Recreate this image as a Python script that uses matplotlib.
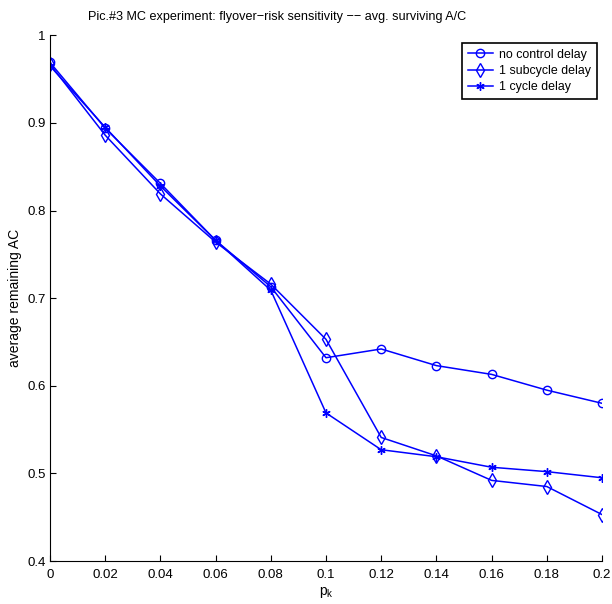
import matplotlib
matplotlib.use("Agg")
import matplotlib.pyplot as plt

plt.rcParams['font.family'] = ['Liberation Sans', 'DejaVu Sans']

p_k = [0.0, 0.02, 0.04, 0.06, 0.08, 0.10, 0.12, 0.14, 0.16, 0.18, 0.20]
no_control_delay = [0.969, 0.894, 0.831, 0.766, 0.713, 0.632, 0.642, 0.623, 0.613, 0.595, 0.580]
one_subcycle_delay = [0.967, 0.886, 0.819, 0.764, 0.716, 0.653, 0.541, 0.520, 0.492, 0.485, 0.453]
one_cycle_delay = [0.965, 0.895, 0.828, 0.766, 0.709, 0.569, 0.527, 0.519, 0.507, 0.502, 0.495]

x_ticks = [0, 0.02, 0.04, 0.06, 0.08, 0.1, 0.12, 0.14, 0.16, 0.18, 0.2]
x_tick_labels = ['0', '0.02', '0.04', '0.06', '0.08', '0.1', '0.12', '0.14', '0.16', '0.18', '0.2']
y_ticks = [0.4, 0.5, 0.6, 0.7, 0.8, 0.9, 1.0]
y_tick_labels = ['0.4', '0.5', '0.6', '0.7', '0.8', '0.9', '1']

W, H = 612, 604
fig = plt.figure(figsize=(W / 100, H / 100), dpi=100)
ax = fig.add_axes([50 / W, 1 - 561 / H, 552 / W, (561 - 35.3) / H])

blue = '#0000ff'
ax.plot(p_k, no_control_delay, color=blue, lw=1.1, marker='o', ms=6,
        mfc='none', mec=blue, mew=1.0, label='no control delay')
ax.plot(p_k, one_subcycle_delay, color=blue, lw=1.1, marker='d', ms=7.5,
        mfc='none', mec=blue, mew=1.0, label='1 subcycle delay')
ax.plot(p_k, one_cycle_delay, color=blue, lw=1.1, marker=(6, 2, 0), ms=6,
        mfc='none', mec=blue, mew=1.0, label='1 cycle delay')

ax.set_xlim(0, 0.2)
ax.set_ylim(0.4, 1.0)
ax.set_xticks(x_ticks)
ax.set_xticklabels(x_tick_labels)
ax.set_yticks(y_ticks)
ax.set_yticklabels(y_tick_labels)
ax.tick_params(direction='in', length=4, width=0.8, labelsize=9.5)
ax.tick_params(axis='x', pad=6)
ax.tick_params(axis='y', pad=3)

for side in ('top', 'right'):
    ax.spines[side].set_visible(False)
for side in ('left', 'bottom'):
    ax.spines[side].set_linewidth(0.8)

fig.text(277 / W, 1 - 17 / H,
         'Pic.#3 MC experiment: flyover\u2212risk sensitivity \u2212\u2212 avg. surviving A/C',
         fontsize=9.1, ha='center', va='center')
ax.set_xlabel('p$_\\mathregular{k}$', fontsize=10, labelpad=3)
ax.set_ylabel('average remaining AC', fontsize=10, labelpad=4)

leg = ax.legend(loc='upper right', bbox_to_anchor=(597 / W, 1 - 43 / H),
                bbox_transform=fig.transFigure, fontsize=8.9, frameon=True,
                fancybox=False, edgecolor='black', framealpha=1,
                handlelength=2.0, handletextpad=0.55, borderpad=0.45,
                labelspacing=0.35, borderaxespad=0)
leg.get_frame().set_linewidth(1.2)

fig.savefig('out.png', dpi=100)
